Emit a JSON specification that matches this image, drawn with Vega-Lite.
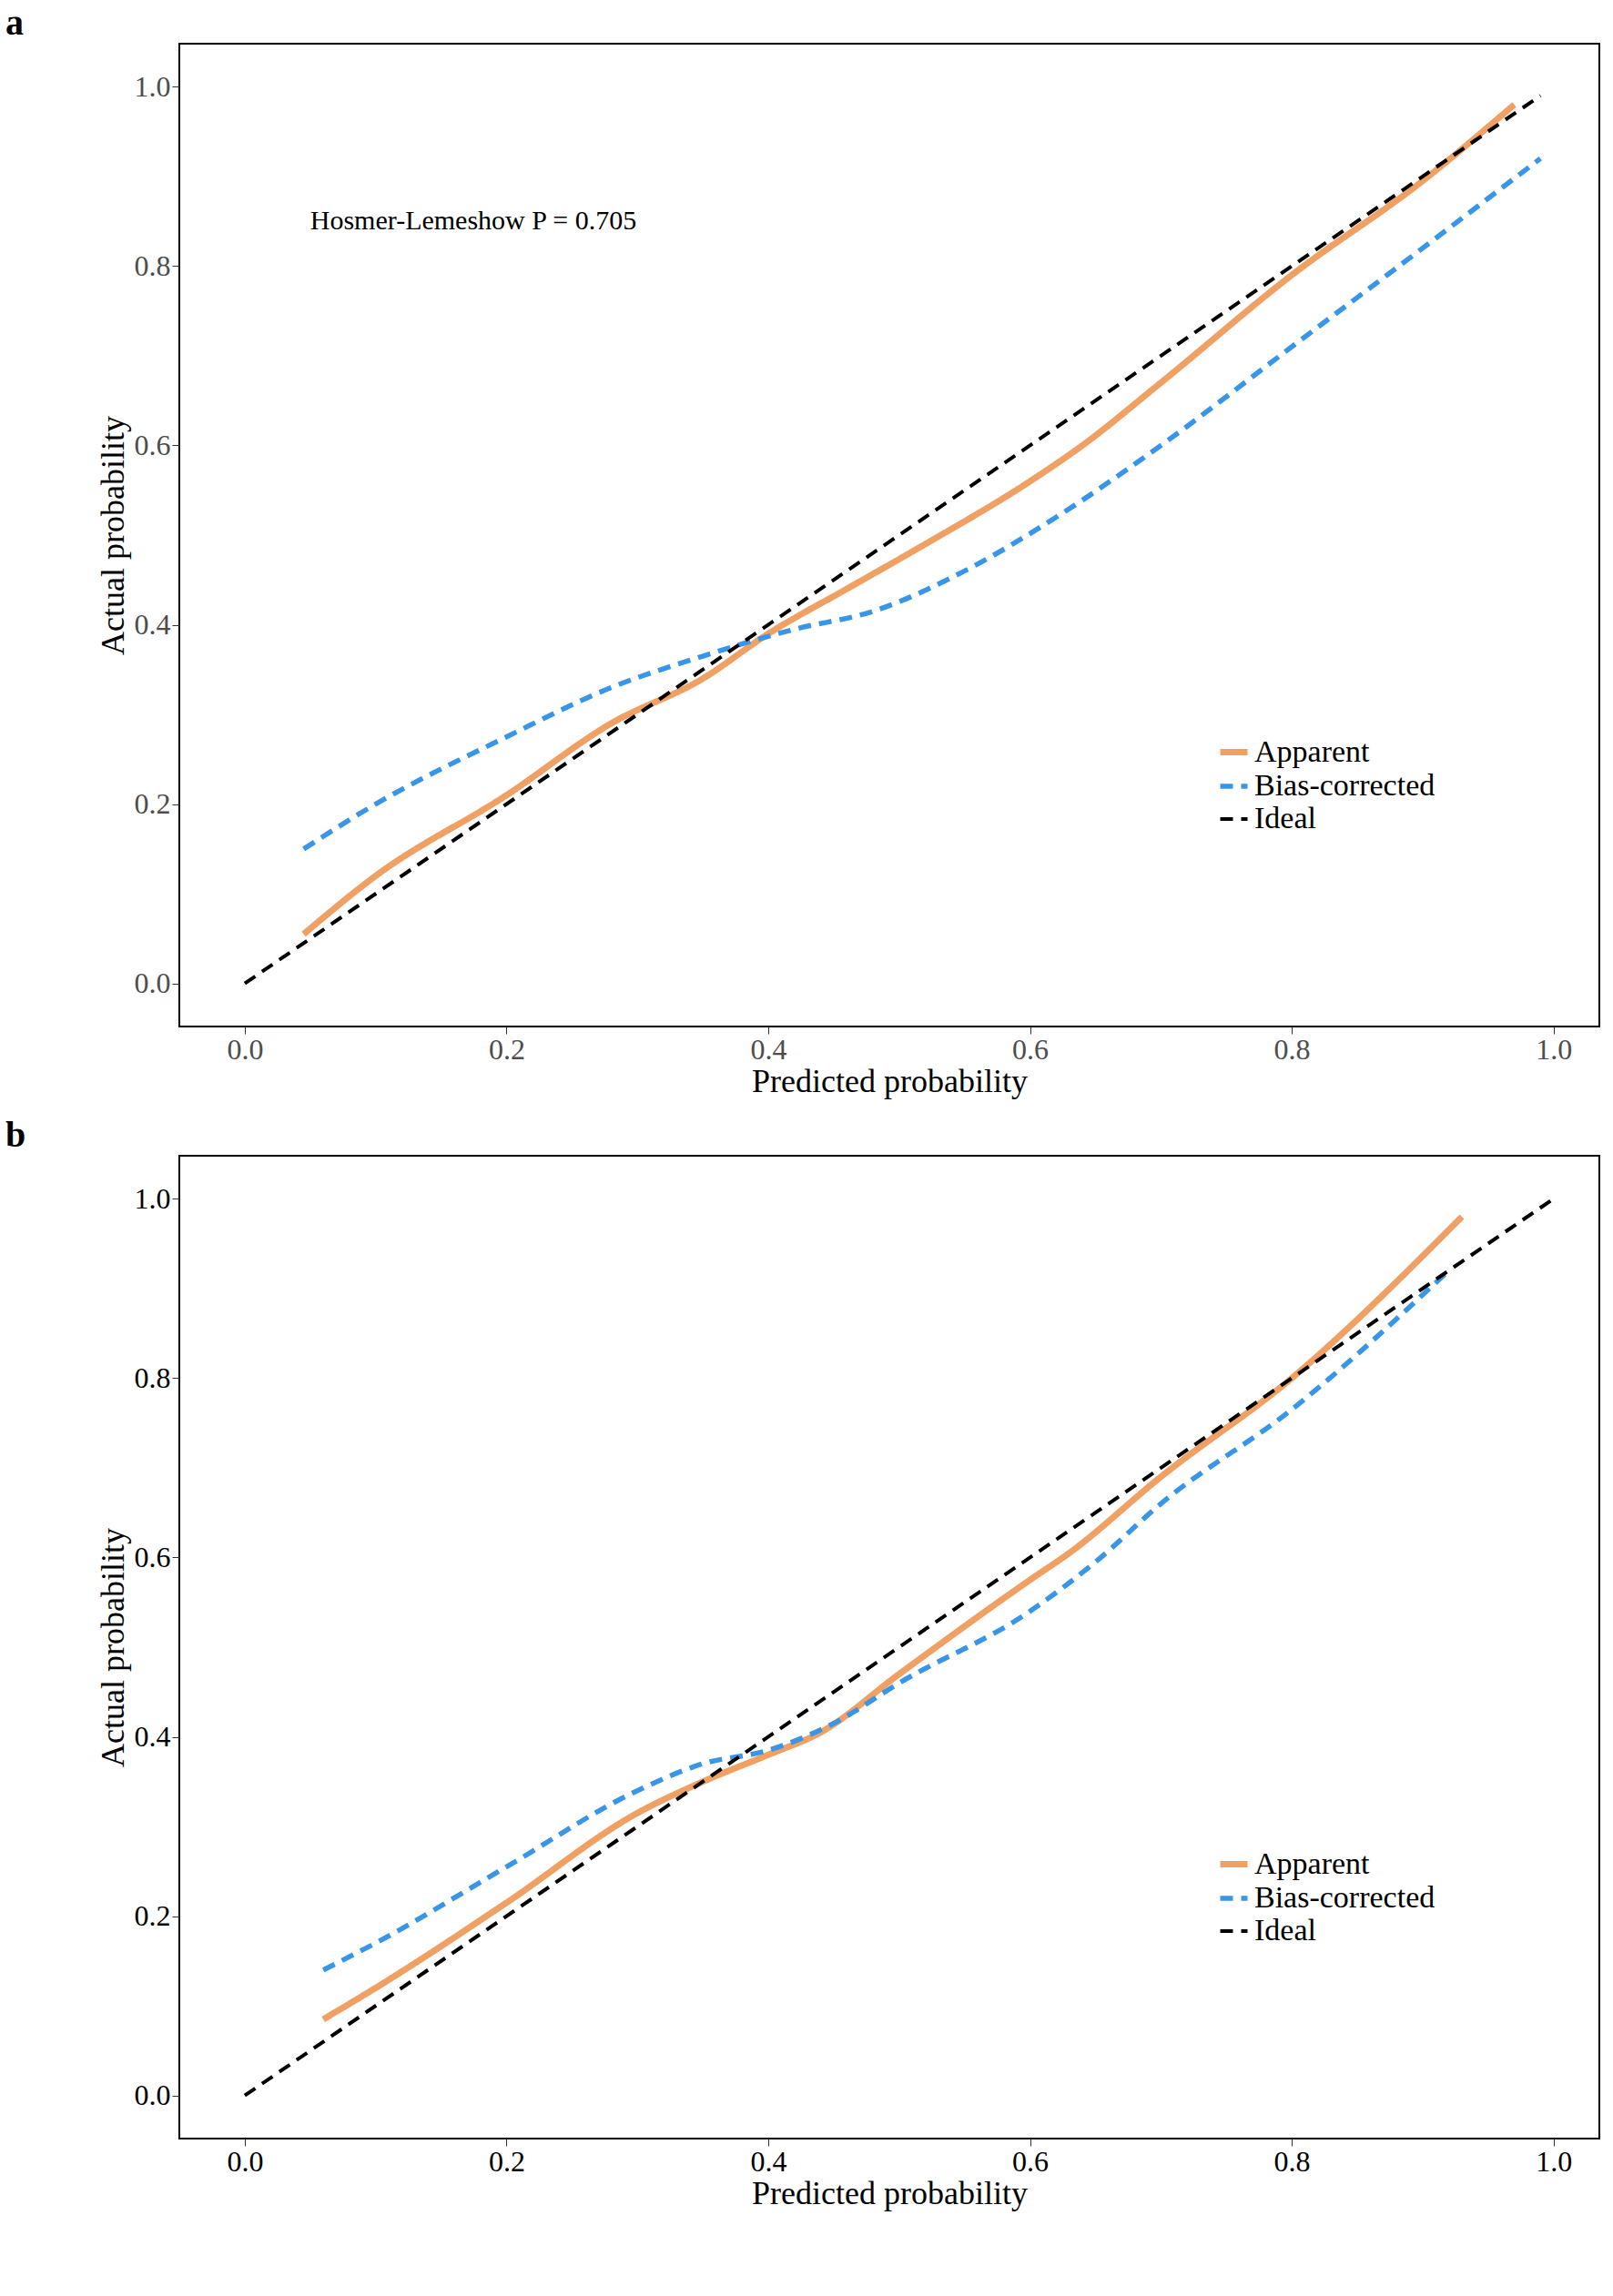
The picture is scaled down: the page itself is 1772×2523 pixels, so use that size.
{
  "$schema": "https://vega.github.io/schema/vega-lite/v6.json",
  "background": "white",
  "padding": {"left": 5, "top": 5, "right": 20, "bottom": 5},
  "spacing": 20,
  "config": {
    "font": "Liberation Serif",
    "view": {"stroke": "black", "strokeWidth": 2},
    "axis": {
      "grid": false, "domain": false, "tickColor": "#333", "tickSize": 8,
      "labelFont": "Liberation Serif", "labelFontSize": 32, "labelColor": "#4d4d4d",
      "titleFont": "Liberation Serif", "titleFontSize": 36, "titleFontWeight": "normal", "titleColor": "black"
    },
    "axisY": {"titlePadding": 4},
    "title": {"font": "Liberation Serif", "fontSize": 40, "fontWeight": "bold", "anchor": "start", "dx": -100, "offset": 2}
  },
  "datasets": {
    "curves": [
      {"panel": "a", "series": "Apparent", "x": 0.045, "y": 0.055},
      {"panel": "a", "series": "Apparent", "x": 0.1, "y": 0.12},
      {"panel": "a", "series": "Apparent", "x": 0.2, "y": 0.21},
      {"panel": "a", "series": "Apparent", "x": 0.28, "y": 0.29},
      {"panel": "a", "series": "Apparent", "x": 0.35, "y": 0.34},
      {"panel": "a", "series": "Apparent", "x": 0.4, "y": 0.39},
      {"panel": "a", "series": "Apparent", "x": 0.46, "y": 0.44},
      {"panel": "a", "series": "Apparent", "x": 0.52, "y": 0.49},
      {"panel": "a", "series": "Apparent", "x": 0.6, "y": 0.56},
      {"panel": "a", "series": "Apparent", "x": 0.64, "y": 0.6},
      {"panel": "a", "series": "Apparent", "x": 0.7, "y": 0.67},
      {"panel": "a", "series": "Apparent", "x": 0.8, "y": 0.79},
      {"panel": "a", "series": "Apparent", "x": 0.9, "y": 0.895},
      {"panel": "a", "series": "Apparent", "x": 0.97, "y": 0.98},
      {"panel": "a", "series": "Bias-corrected", "x": 0.045, "y": 0.15},
      {"panel": "a", "series": "Bias-corrected", "x": 0.1, "y": 0.2},
      {"panel": "a", "series": "Bias-corrected", "x": 0.2, "y": 0.275},
      {"panel": "a", "series": "Bias-corrected", "x": 0.28, "y": 0.33},
      {"panel": "a", "series": "Bias-corrected", "x": 0.35, "y": 0.365},
      {"panel": "a", "series": "Bias-corrected", "x": 0.42, "y": 0.395},
      {"panel": "a", "series": "Bias-corrected", "x": 0.48, "y": 0.415},
      {"panel": "a", "series": "Bias-corrected", "x": 0.55, "y": 0.46},
      {"panel": "a", "series": "Bias-corrected", "x": 0.62, "y": 0.52},
      {"panel": "a", "series": "Bias-corrected", "x": 0.7, "y": 0.6},
      {"panel": "a", "series": "Bias-corrected", "x": 0.8, "y": 0.71},
      {"panel": "a", "series": "Bias-corrected", "x": 0.9, "y": 0.82},
      {"panel": "a", "series": "Bias-corrected", "x": 0.99, "y": 0.92},
      {"panel": "a", "series": "Ideal", "x": 0.0, "y": 0.0},
      {"panel": "a", "series": "Ideal", "x": 0.99, "y": 0.99},
      {"panel": "b", "series": "Apparent", "x": 0.06, "y": 0.085},
      {"panel": "b", "series": "Apparent", "x": 0.1, "y": 0.12},
      {"panel": "b", "series": "Apparent", "x": 0.2, "y": 0.215},
      {"panel": "b", "series": "Apparent", "x": 0.3, "y": 0.315},
      {"panel": "b", "series": "Apparent", "x": 0.35, "y": 0.35},
      {"panel": "b", "series": "Apparent", "x": 0.4, "y": 0.38},
      {"panel": "b", "series": "Apparent", "x": 0.44, "y": 0.405},
      {"panel": "b", "series": "Apparent", "x": 0.5, "y": 0.47},
      {"panel": "b", "series": "Apparent", "x": 0.6, "y": 0.575},
      {"panel": "b", "series": "Apparent", "x": 0.63, "y": 0.605},
      {"panel": "b", "series": "Apparent", "x": 0.7, "y": 0.69},
      {"panel": "b", "series": "Apparent", "x": 0.8, "y": 0.8},
      {"panel": "b", "series": "Apparent", "x": 0.93, "y": 0.98},
      {"panel": "b", "series": "Bias-corrected", "x": 0.06, "y": 0.14},
      {"panel": "b", "series": "Bias-corrected", "x": 0.1, "y": 0.17},
      {"panel": "b", "series": "Bias-corrected", "x": 0.2, "y": 0.255},
      {"panel": "b", "series": "Bias-corrected", "x": 0.3, "y": 0.34},
      {"panel": "b", "series": "Bias-corrected", "x": 0.35, "y": 0.37},
      {"panel": "b", "series": "Bias-corrected", "x": 0.4, "y": 0.385},
      {"panel": "b", "series": "Bias-corrected", "x": 0.45, "y": 0.415},
      {"panel": "b", "series": "Bias-corrected", "x": 0.5, "y": 0.46},
      {"panel": "b", "series": "Bias-corrected", "x": 0.6, "y": 0.54},
      {"panel": "b", "series": "Bias-corrected", "x": 0.65, "y": 0.595},
      {"panel": "b", "series": "Bias-corrected", "x": 0.7, "y": 0.66},
      {"panel": "b", "series": "Bias-corrected", "x": 0.8, "y": 0.765},
      {"panel": "b", "series": "Bias-corrected", "x": 0.92, "y": 0.92},
      {"panel": "b", "series": "Ideal", "x": 0.0, "y": 0.0},
      {"panel": "b", "series": "Ideal", "x": 1.0, "y": 1.0}
    ],
    "note": [{"x": 0.05, "y": 0.85, "label": "Hosmer-Lemeshow  P  =  0.705"}]
  },
  "vconcat": [
    {
      "title": "a",
      "width": 1560, "height": 1080,
      "layer": [
        {
          "data": {"name": "curves"},
          "transform": [{"filter": "datum.panel == 'a'"}],
          "mark": {"type": "line", "interpolate": "monotone"},
          "encoding": {
            "x": {"field": "x", "type": "quantitative", "title": "Predicted probability",
                  "scale": {"domain": [-0.05, 1.035], "nice": false, "zero": false},
                  "axis": {"values": [0, 0.2, 0.4, 0.6, 0.8, 1], "format": ".1f", "titlePadding": 2}},
            "y": {"field": "y", "type": "quantitative", "title": "Actual probability",
                  "scale": {"domain": [-0.048, 1.048], "nice": false, "zero": false},
                  "axis": {"values": [0, 0.2, 0.4, 0.6, 0.8, 1], "format": ".1f"}},
            "color": {"field": "series", "type": "nominal",
                      "scale": {"domain": ["Apparent", "Bias-corrected", "Ideal"], "range": ["#f0a062", "#3895e8", "#000000"]},
                      "legend": {"title": null, "orient": "none", "legendX": 1140, "legendY": 760,
                                 "symbolType": "stroke", "symbolSize": 900, "symbolStrokeWidth": 5, "labelLimit": 400,
                                 "labelFontSize": 34, "labelFont": "Liberation Serif", "labelColor": "black", "rowPadding": 2}},
            "strokeDash": {"field": "series", "type": "nominal",
                           "scale": {"domain": ["Apparent", "Bias-corrected", "Ideal"], "range": [[1, 0], [14, 9], [14, 9]]}},
            "strokeWidth": {"field": "series", "type": "nominal", "legend": null,
                            "scale": {"domain": ["Apparent", "Bias-corrected", "Ideal"], "range": [7, 4, 4]}}
          }
        },
        {
          "data": {"name": "note"},
          "mark": {"type": "text", "align": "left", "fontSize": 30, "font": "Liberation Serif"},
          "encoding": {"x": {"field": "x", "type": "quantitative"}, "y": {"field": "y", "type": "quantitative"}, "text": {"field": "label"}}
        }
      ]
    },
    {
      "title": "b",
      "width": 1560, "height": 1080,
      "data": {"name": "curves"},
      "transform": [{"filter": "datum.panel == 'b'"}],
      "mark": {"type": "line", "interpolate": "monotone"},
      "encoding": {
        "x": {"field": "x", "type": "quantitative", "title": "Predicted probability",
              "scale": {"domain": [-0.05, 1.035], "nice": false, "zero": false},
              "axis": {"values": [0, 0.2, 0.4, 0.6, 0.8, 1], "format": ".1f", "titlePadding": 2, "labelColor": "black"}},
        "y": {"field": "y", "type": "quantitative", "title": "Actual probability",
              "scale": {"domain": [-0.048, 1.048], "nice": false, "zero": false},
              "axis": {"values": [0, 0.2, 0.4, 0.6, 0.8, 1], "format": ".1f", "labelColor": "black"}},
        "color": {"field": "series", "type": "nominal",
                  "scale": {"domain": ["Apparent", "Bias-corrected", "Ideal"], "range": ["#f0a062", "#3895e8", "#000000"]},
                  "legend": {"title": null, "orient": "none", "legendX": 1140, "legendY": 760,
                             "symbolType": "stroke", "symbolSize": 900, "symbolStrokeWidth": 5, "labelLimit": 400,
                             "labelFontSize": 34, "labelFont": "Liberation Serif", "labelColor": "black", "rowPadding": 2}},
        "strokeDash": {"field": "series", "type": "nominal",
                       "scale": {"domain": ["Apparent", "Bias-corrected", "Ideal"], "range": [[1, 0], [14, 9], [14, 9]]}},
        "strokeWidth": {"field": "series", "type": "nominal", "legend": null,
                        "scale": {"domain": ["Apparent", "Bias-corrected", "Ideal"], "range": [7, 4, 4]}}
      }
    }
  ],
  "resolve": {"scale": {"color": "independent", "strokeDash": "independent", "strokeWidth": "independent"}, "legend": {"color": "independent", "strokeDash": "independent"}}
}
